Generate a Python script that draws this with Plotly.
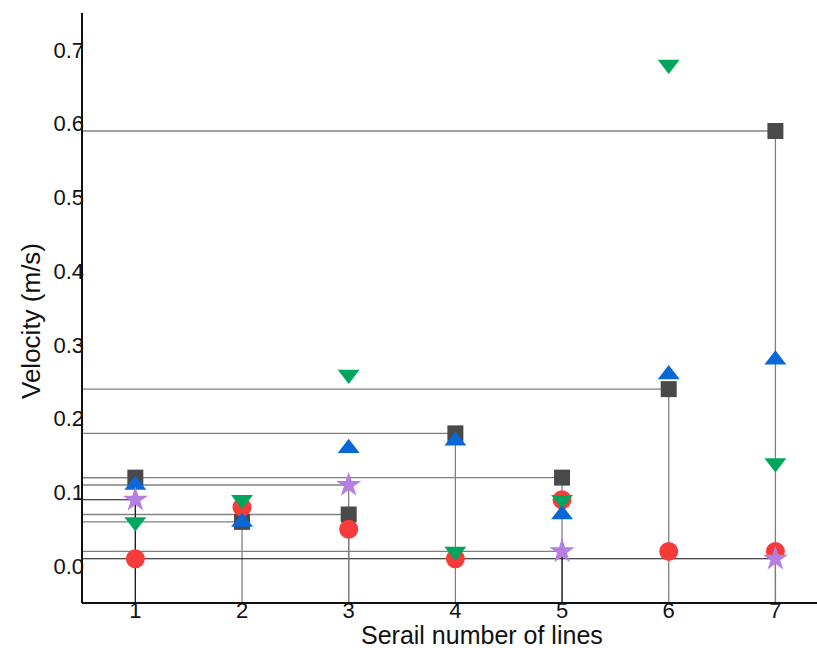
import plotly.graph_objects as go

# Serial number of each measuring line
lines = [1, 2, 3, 4, 5, 6, 7]

# Velocities (m/s) for each group of measurements
v_square = [0.12, 0.06, 0.07, 0.18, 0.12, 0.24, 0.59]
v_circle = [0.01, 0.08, 0.05, 0.01, 0.09, 0.02, 0.02]
v_tri_down = [0.06, 0.09, 0.26, 0.02, 0.09, 0.68, 0.14]
v_tri_up = [0.11, 0.06, 0.16, 0.17, 0.07, 0.26, 0.28]
v_star = [0.09, None, 0.11, None, 0.02, None, 0.01]

y_ticks = [0.0, 0.1, 0.2, 0.3, 0.4, 0.5, 0.6, 0.7]

X_MIN, X_MAX = 0.5, 7.39
Y_MIN, Y_MAX = -0.05, 0.75

GREY = "#808080"
BLACK = "#111111"

# drop-line colours (horizontal, vertical) for the star points
star_h_col = [BLACK, None, GREY, None, GREY, None, BLACK]
star_v_col = [BLACK, None, GREY, None, BLACK, None, GREY]

# page geometry (px)
W, H = 817, 648
L, R, T, B = 82, 0, 13, 45
PW, PH = W - L - R, H - T - B


def drop_segments(xs, ys, colors, horizontal):
    """Collect drop-line segments per colour from data points."""
    out = {}
    for x, y, c in zip(xs, ys, colors):
        if y is None or c is None:
            continue
        sx, sy = out.setdefault(c, ([], []))
        if horizontal:
            sx += [X_MIN, x, None]
            sy += [y, y, None]
        else:
            sx += [x, x, None]
            sy += [y, Y_MIN, None]
    return out


fig = go.Figure()

segs = []
segs.append(drop_segments(lines, v_square, [GREY] * len(lines), True))
segs.append(drop_segments(lines, v_square, [GREY] * len(lines), False))
segs.append(drop_segments(lines, v_star, star_h_col, True))
segs.append(drop_segments(lines, v_star, star_v_col, False))

for group in segs:
    for col, (sx, sy) in group.items():
        fig.add_trace(go.Scatter(
            x=sx, y=sy, mode="lines",
            line=dict(color=col, width=1.3 if col == GREY else 1.1),
            hoverinfo="skip", showlegend=False))

series = [
    (v_square, "square", "#4a4a4a", 16),
    (v_circle, "circle", "#f73b3b", 19),
    (v_tri_down, "triangle-down", "#00a65d", 19),
    (v_tri_up, "triangle-up", "#0a68d6", 19),
    (v_star, "star", "#b57ee0", 19),
]
for vals, sym, col, size in series:
    fig.add_trace(go.Scatter(
        x=lines, y=vals, mode="markers",
        marker=dict(symbol=sym, color=col, size=size, line=dict(width=0)),
        showlegend=False))

font = "Arial, Liberation Sans, sans-serif"

fig.update_layout(
    width=W, height=H,
    margin=dict(l=L, r=R, t=T, b=B),
    paper_bgcolor="white", plot_bgcolor="white",
    font=dict(family=font, color="#111111"),
    xaxis=dict(
        range=[X_MIN, X_MAX], tickvals=lines, ticktext=[str(v) for v in lines],
        showgrid=False, zeroline=False, showline=False, ticks="",
        tickfont=dict(size=22, family=font),
        anchor="free", position=8 / PH,
    ),
    yaxis=dict(
        range=[Y_MIN, Y_MAX], tickvals=y_ticks, tickformat=".1f",
        showgrid=False, zeroline=False, showline=False, ticks="",
        tickfont=dict(size=22, family=font),
        anchor="free", position=2 / PW,
    ),
    shapes=[
        # axis lines along the left and bottom edges of the plot area
        dict(type="line", xref="paper", yref="paper", x0=0, x1=0, y0=0, y1=1,
             line=dict(color="#111111", width=2)),
        dict(type="line", xref="paper", yref="paper", x0=0, x1=1, y0=0, y1=0,
             line=dict(color="#111111", width=2)),
    ],
    annotations=[
        dict(text="Serail number of lines", x=482, y=635, xref="paper", yref="paper",
             xanchor="center", yanchor="middle",
             showarrow=False, font=dict(size=25, family=font)),
        dict(text="Velocity (m/s)", x=31, y=321, xref="paper", yref="paper",
             xanchor="center", yanchor="middle",
             textangle=-90, showarrow=False, font=dict(size=26, family=font)),
    ],
)

# place the axis titles in pixel coordinates of the page
for a in fig.layout.annotations:
    a.x = (a.x - L) / PW
    a.y = (H - B - a.y) / PH

fig.write_html("out.html")
